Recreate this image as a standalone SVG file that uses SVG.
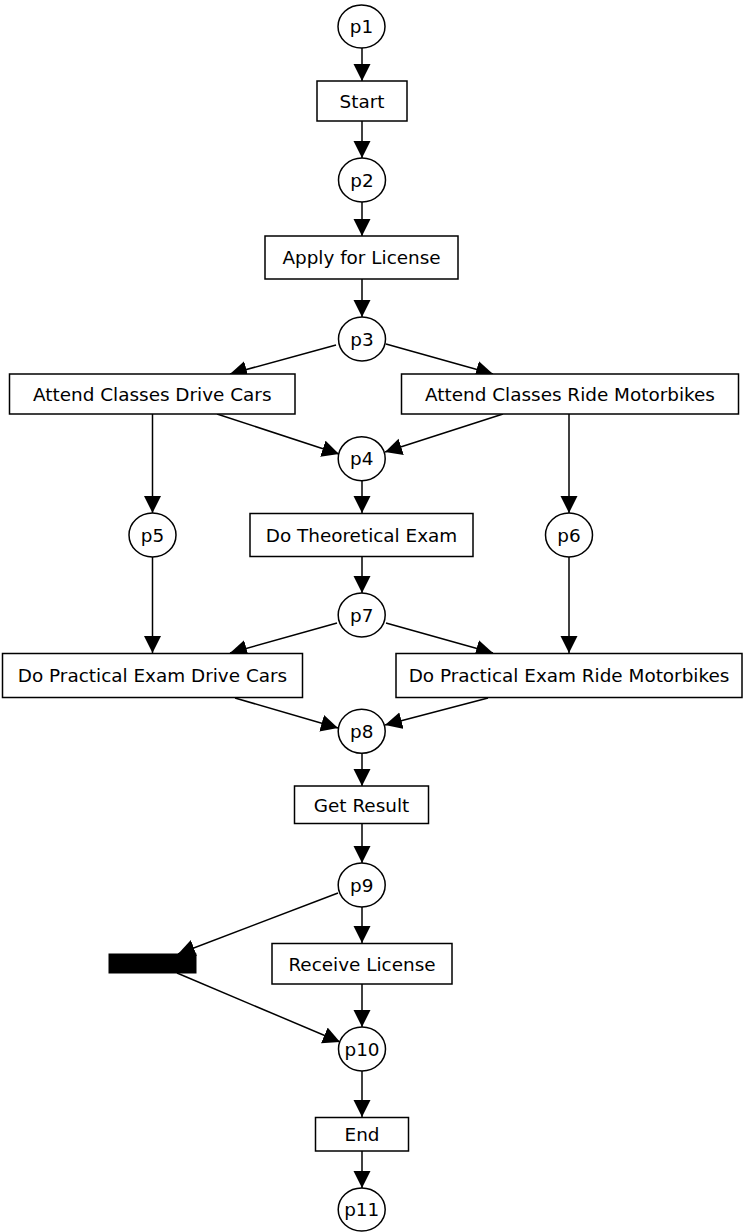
<svg xmlns="http://www.w3.org/2000/svg" width="743" height="1232" viewBox="0 0 743 1232">
<defs>
<marker id="ah" markerUnits="userSpaceOnUse" markerWidth="18" markerHeight="18" refX="17" refY="8.5" orient="auto">
<path d="M0,0 L17,8.5 L0,17 z" fill="#000"/>
</marker>
</defs>
<style>
.box{fill:#fff;stroke:#000;stroke-width:1.5}
.pl{fill:#fff;stroke:#000;stroke-width:1.5}
.t{font-family:"DejaVu Sans",Verdana,sans-serif;font-size:18.4px;fill:#000;text-anchor:middle}
.e{fill:none;stroke:#000;stroke-width:1.5;marker-end:url(#ah)}
</style>
<rect width="743" height="1232" fill="#fff"/>
<g id="connectors">
<line class="e" x1="362" y1="48" x2="362" y2="81"/>
<line class="e" x1="362" y1="121" x2="362" y2="158"/>
<line class="e" x1="362" y1="202" x2="362" y2="236"/>
<line class="e" x1="362" y1="279" x2="362" y2="317"/>
<line class="e" x1="336" y1="345" x2="230" y2="374"/>
<line class="e" x1="386" y1="344" x2="493" y2="374"/>
<line class="e" x1="217" y1="414" x2="339" y2="454"/>
<line class="e" x1="503" y1="414" x2="385" y2="452"/>
<line class="e" x1="152.5" y1="414" x2="152.5" y2="513"/>
<line class="e" x1="569" y1="414" x2="569" y2="513"/>
<line class="e" x1="362" y1="481" x2="362" y2="513"/>
<line class="e" x1="362" y1="557" x2="362" y2="593"/>
<line class="e" x1="337" y1="623" x2="230" y2="653"/>
<line class="e" x1="386" y1="623" x2="493" y2="653"/>
<line class="e" x1="152.5" y1="557" x2="152.5" y2="653"/>
<line class="e" x1="569" y1="557" x2="569" y2="653"/>
<line class="e" x1="235" y1="698" x2="338" y2="728"/>
<line class="e" x1="488" y1="698" x2="385" y2="725"/>
<line class="e" x1="362" y1="753" x2="362" y2="786"/>
<line class="e" x1="362" y1="823" x2="362" y2="863"/>
<line class="e" x1="338" y1="893" x2="178" y2="954"/>
<line class="e" x1="362" y1="907" x2="362" y2="943"/>
<line class="e" x1="177" y1="973" x2="340" y2="1042"/>
<line class="e" x1="362" y1="984" x2="362" y2="1027"/>
<line class="e" x1="362" y1="1071" x2="362" y2="1117"/>
<line class="e" x1="362" y1="1151" x2="362" y2="1188"/>
</g>
<g id="p1"><ellipse class="pl" cx="361.5" cy="26.5" rx="23.5" ry="21.5"/><text class="t" x="361.5" y="33">p1</text></g>
<g id="start"><rect class="box" x="317" y="81" width="90" height="40"/><text class="t" x="362" y="108">Start</text></g>
<g id="p2"><ellipse class="pl" cx="362" cy="180" rx="23.5" ry="22"/><text class="t" x="362" y="186.5">p2</text></g>
<g id="apply"><rect class="box" x="265" y="236" width="193" height="43"/><text class="t" x="361.5" y="264">Apply for License</text></g>
<g id="p3"><ellipse class="pl" cx="362" cy="339" rx="23.5" ry="22"/><text class="t" x="362" y="345.5">p3</text></g>
<g id="attendCars"><rect class="box" x="9.5" y="374" width="285.5" height="40"/><text class="t" x="152.3" y="401">Attend Classes Drive Cars</text></g>
<g id="attendBikes"><rect class="box" x="401.5" y="374" width="337" height="40"/><text class="t" x="570" y="401">Attend Classes Ride Motorbikes</text></g>
<g id="p4"><ellipse class="pl" cx="361.7" cy="458.7" rx="23.5" ry="22"/><text class="t" x="361.7" y="465">p4</text></g>
<g id="p5"><ellipse class="pl" cx="152.5" cy="535" rx="23.5" ry="22"/><text class="t" x="152.5" y="541.5">p5</text></g>
<g id="theory"><rect class="box" x="250" y="513.5" width="223" height="43"/><text class="t" x="361.5" y="541.5">Do Theoretical Exam</text></g>
<g id="p6"><ellipse class="pl" cx="569" cy="535" rx="23.5" ry="22"/><text class="t" x="569" y="541.5">p6</text></g>
<g id="p7"><ellipse class="pl" cx="361.7" cy="615" rx="23.5" ry="22"/><text class="t" x="361.7" y="621.5">p7</text></g>
<g id="practCars"><rect class="box" x="2.5" y="653.5" width="300" height="44"/><text class="t" x="152.5" y="682">Do Practical Exam Drive Cars</text></g>
<g id="practBikes"><rect class="box" x="396" y="653.5" width="346" height="44"/><text class="t" x="569" y="682">Do Practical Exam Ride Motorbikes</text></g>
<g id="p8"><ellipse class="pl" cx="361.7" cy="731.3" rx="23.5" ry="22"/><text class="t" x="361.7" y="737.8">p8</text></g>
<g id="result"><rect class="box" x="294.5" y="786" width="134" height="37.5"/><text class="t" x="361.5" y="811.5">Get Result</text></g>
<g id="p9"><ellipse class="pl" cx="361.7" cy="885" rx="23.5" ry="22"/><text class="t" x="361.7" y="891.5">p9</text></g>
<g id="silent"><rect x="108.5" y="953.5" width="88" height="20" fill="#000"/></g>
<g id="receive"><rect class="box" x="272" y="943.5" width="180" height="40.5"/><text class="t" x="362" y="970.5">Receive License</text></g>
<g id="p10"><ellipse class="pl" cx="362" cy="1049" rx="23.5" ry="22"/><text class="t" x="362" y="1055.5">p10</text></g>
<g id="end"><rect class="box" x="315.5" y="1117.5" width="93" height="33.5"/><text class="t" x="362" y="1140.5">End</text></g>
<g id="p11"><ellipse class="pl" cx="361.7" cy="1209.5" rx="23.5" ry="21.5"/><text class="t" x="361.7" y="1216">p11</text></g>
</svg>
